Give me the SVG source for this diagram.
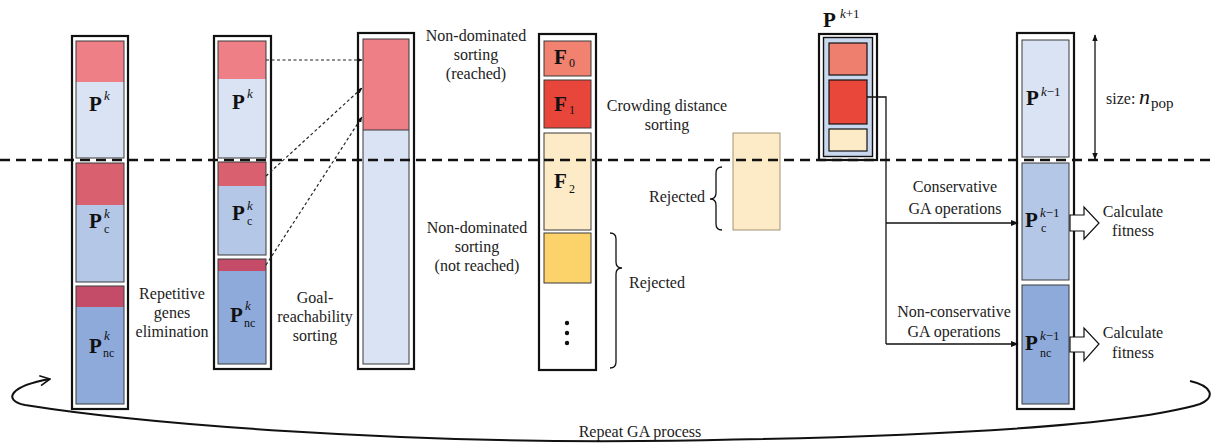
<svg xmlns="http://www.w3.org/2000/svg" width="1214" height="443" viewBox="0 0 1214 443">
<defs>
<style>
.frame{fill:#fff;stroke:#111;stroke-width:2.2}
.cell{fill:none;stroke:#3a3a3a;stroke-width:1}
.lb{fill:#dae3f3}
.mb{fill:#b4c7e7}
.db{fill:#8eaadb}
.r1{fill:#ee7f86}
.r2{fill:#d9606f}
.r3{fill:#c44c68}
.t{font-family:"Liberation Serif","DejaVu Serif",serif;font-size:16px;fill:#222}
.c{text-anchor:middle}
.P{font-family:"Liberation Serif","DejaVu Serif",serif;font-weight:bold;font-size:21px;fill:#111}
.sup{font-family:"Liberation Serif","DejaVu Serif",serif;font-style:italic;font-size:13px;fill:#111}
.sub{font-family:"Liberation Serif","DejaVu Serif",serif;font-size:12px;fill:#111}
.line{fill:none;stroke:#111;stroke-width:1.3}
.dash{fill:none;stroke:#222;stroke-width:1.2;stroke-dasharray:3 2.5}
.blk{fill:#fff;stroke:#111;stroke-width:1.2}
</style>
<marker id="ah" viewBox="0 0 10 10" refX="9" refY="5" markerWidth="8" markerHeight="8" orient="auto" markerUnits="userSpaceOnUse"><path d="M0,1 L10,5 L0,9 z" fill="#111"/></marker>
<marker id="ahs" viewBox="0 0 10 10" refX="9" refY="5" markerWidth="6" markerHeight="6" orient="auto" markerUnits="userSpaceOnUse"><path d="M0,1 L10,5 L0,9 z" fill="#111"/></marker>
<marker id="ad" viewBox="0 0 10 10" refX="9" refY="5" markerWidth="7" markerHeight="7" orient="auto-start-reverse" markerUnits="userSpaceOnUse"><path d="M0,1 L10,5 L0,9 z" fill="#111"/></marker>
<marker id="oa" viewBox="0 0 12 12" refX="11" refY="6" markerWidth="12" markerHeight="12" orient="auto" markerUnits="userSpaceOnUse"><path d="M1,1 L11,6 L1,11" fill="none" stroke="#111" stroke-width="1.6"/></marker>
</defs>
<rect width="1214" height="443" fill="#fff"/>

<!-- Column 1 -->
<g id="col1">
<rect class="frame" x="72" y="36" width="56" height="373"/>
<rect class="lb" x="76" y="41" width="48" height="117"/>
<rect class="r1" x="76" y="41" width="48" height="41"/>
<rect class="cell" x="76" y="41" width="48" height="117"/>
<rect class="mb" x="76" y="163" width="48" height="119"/>
<rect class="r2" x="76" y="163" width="48" height="42"/>
<rect class="cell" x="76" y="163" width="48" height="119"/>
<rect class="db" x="76" y="286" width="48" height="118"/>
<rect class="r3" x="76" y="286" width="48" height="21"/>
<rect class="cell" x="76" y="286" width="48" height="118"/>
<text class="P" x="89" y="111">P</text><text class="sup" x="104" y="100">k</text>
<text class="P" x="89" y="228">P</text><text class="sup" x="104" y="218">k</text><text class="sub" x="104" y="233">c</text>
<text class="P" x="89" y="353">P</text><text class="sup" x="104" y="340">k</text><text class="sub" x="103" y="357">nc</text>
</g>
<g id="label-repetitive">
<text class="t c" x="172" y="299">Repetitive</text>
<text class="t c" x="172" y="318">genes</text>
<text class="t c" x="172" y="337">elimination</text>
</g>

<!-- Column 2 -->
<g id="col2">
<rect class="frame" x="214" y="36" width="57" height="333"/>
<rect class="lb" x="218" y="41" width="48" height="117"/>
<rect class="r1" x="218" y="41" width="48" height="38"/>
<rect class="cell" x="218" y="41" width="48" height="117"/>
<rect class="mb" x="218" y="162" width="48" height="93"/>
<rect class="r2" x="218" y="162" width="48" height="24"/>
<rect class="cell" x="218" y="162" width="48" height="93"/>
<rect class="db" x="218" y="259" width="48" height="105"/>
<rect class="r3" x="218" y="259" width="48" height="12"/>
<rect class="cell" x="218" y="259" width="48" height="105"/>
<text class="P" x="232" y="109">P</text><text class="sup" x="247" y="98">k</text>
<text class="P" x="232" y="220">P</text><text class="sup" x="247" y="210">k</text><text class="sub" x="247" y="225">c</text>
<text class="P" x="230" y="322">P</text><text class="sup" x="245" y="310">k</text><text class="sub" x="244" y="327">nc</text>
</g>
<g id="label-goal">
<text class="t c" x="315" y="303">Goal-</text>
<text class="t c" x="315" y="322">reachability</text>
<text class="t c" x="315" y="341">sorting</text>
</g>

<!-- Column 3 -->
<g id="col3">
<rect class="frame" x="358" y="33" width="56" height="336"/>
<rect class="lb" x="363" y="39" width="46" height="325"/>
<rect class="r1" x="363" y="39" width="46" height="91"/>
<line x1="363" y1="130" x2="409" y2="130" stroke="#3a3a3a" stroke-width="1"/>
<rect class="cell" x="363" y="39" width="46" height="325"/>
</g>
<g id="label-nd-reached">
<text class="t c" x="476" y="41">Non-dominated</text>
<text class="t c" x="476" y="60">sorting</text>
<text class="t c" x="476" y="79">(reached)</text>
</g>
<g id="label-nd-notreached">
<text class="t c" x="477" y="233">Non-dominated</text>
<text class="t c" x="477" y="252">sorting</text>
<text class="t c" x="477" y="271">(not reached)</text>
</g>

<!-- Fronts column -->
<g id="fronts">
<rect class="frame" x="539" y="34" width="57" height="336"/>
<rect x="544" y="41" width="47" height="35" fill="#f0826f" stroke="#3a3a3a" stroke-width="1"/>
<rect x="544" y="80" width="47" height="48" fill="#e8463a" stroke="#3a3a3a" stroke-width="1"/>
<rect x="544" y="133" width="47" height="97" fill="#fdeac6" stroke="#3a3a3a" stroke-width="1"/>
<rect x="544" y="233" width="47" height="50" fill="#fcd36b" stroke="#3a3a3a" stroke-width="1"/>
<circle cx="567" cy="323" r="2.2" fill="#111"/>
<circle cx="567" cy="333" r="2.2" fill="#111"/>
<circle cx="567" cy="343" r="2.2" fill="#111"/>
<text class="P" x="554" y="64">F</text><text class="sub" x="569" y="67" font-size="16">0</text>
<text class="P" x="554" y="111">F</text><text class="sub" x="569" y="114" font-size="16">1</text>
<text class="P" x="554" y="188" font-size="22">F</text><text class="sub" x="569" y="193" font-size="17">2</text>
</g>
<g id="label-crowding">
<text class="t c" x="667" y="111">Crowding distance</text>
<text class="t c" x="667" y="130">sorting</text>
</g>
<g id="label-rejected1">
<path class="line" d="M610,233 q6,0 6,6 v23 q0,6 6,6 q-6,0 -6,6 v88 q0,6 -6,6"/>
<text class="t" x="629" y="288">Rejected</text>
</g>
<g id="label-rejected2">
<path class="line" d="M722,167 q-6,0 -6,6 v20 q0,6 -6,6 q6,0 6,6 v19 q0,6 6,6"/>
<text class="t" x="705" y="202" text-anchor="end">Rejected</text>
</g>
<g id="rejected-box">
<rect x="733" y="133" width="47" height="97" fill="#fdebc8" stroke="#8a7a5a" stroke-width="0.8"/>
</g>

<!-- P^{k+1} -->
<g id="pk1">
<rect x="819" y="34" width="58" height="126" fill="#fff" stroke="#111" stroke-width="2.2"/>
<rect x="823.5" y="37.5" width="49" height="119" fill="#c8d8ee" stroke="#111" stroke-width="1.4"/>
<rect x="829" y="43" width="38" height="32" fill="#ee7f6e" stroke="#111" stroke-width="1.2"/>
<rect x="829" y="80" width="38" height="44" fill="#e8473a" stroke="#111" stroke-width="1.2"/>
<rect x="829" y="129" width="38" height="22" fill="#fdebc8" stroke="#111" stroke-width="1.2"/>
<text class="P" x="823" y="27" font-size="22">P</text><text class="sup" x="840" y="18" font-size="14">k<tspan font-style="normal">+1</tspan></text>
</g>

<!-- Right column -->
<g id="col-right">
<rect class="frame" x="1017" y="33" width="57" height="376"/>
<rect class="cell" x="1022" y="40" width="47" height="117" style="fill:#dae3f3"/>
<rect class="cell" x="1022" y="163" width="47" height="117" style="fill:#b4c7e7"/>
<rect class="cell" x="1022" y="285" width="47" height="119" style="fill:#8eaadb"/>
<text class="P" x="1026" y="105" font-size="19">P</text><text class="sup" x="1041" y="96" font-size="12">k<tspan font-style="normal">−1</tspan></text>
<text class="P" x="1025" y="227" font-size="19">P</text><text class="sup" x="1040" y="217" font-size="12">k<tspan font-style="normal">−1</tspan></text><text class="sub" x="1041" y="232" font-size="11">c</text>
<text class="P" x="1025" y="350" font-size="19">P</text><text class="sup" x="1040" y="340" font-size="12">k<tspan font-style="normal">−1</tspan></text><text class="sub" x="1040" y="357" font-size="11">nc</text>
</g>
<g id="label-size">
<text class="t" x="1106" y="104">size:</text>
<text x="1139" y="104" font-family="Liberation Serif, DejaVu Serif, serif" font-style="italic" font-size="22" fill="#111">n</text>
<text x="1151" y="108" font-family="Liberation Serif, DejaVu Serif, serif" font-size="15" fill="#111">pop</text>
</g>
<g id="label-cons">
<text class="t c" x="955" y="192">Conservative</text>
<text class="t c" x="955" y="214">GA operations</text>
</g>
<g id="label-noncons">
<text class="t c" x="954" y="317">Non-conservative</text>
<text class="t c" x="954" y="337">GA operations</text>
</g>
<g id="fitness1">
<polygon class="blk" points="1070,215 1084,215 1084,207 1099,223 1084,239 1084,231 1070,231"/>
<text class="t c" x="1133" y="217">Calculate</text>
<text class="t c" x="1133" y="236">fitness</text>
</g>
<g id="fitness2">
<polygon class="blk" points="1070,337 1084,337 1084,328 1099,344 1084,361 1084,352 1070,352"/>
<text class="t c" x="1133" y="338">Calculate</text>
<text class="t c" x="1133" y="358">fitness</text>
</g>
<g id="label-repeat">
<text class="t c" x="640" y="437">Repeat GA process</text>
</g>

<!-- Connectors -->
<g id="connectors">
<path class="dash" d="M266,60 L362,60" marker-end="url(#ahs)"/>
<path class="dash" d="M266,176 L362,88" marker-end="url(#ahs)"/>
<path class="dash" d="M266,265 L362,117" marker-end="url(#ahs)"/>
<path class="line" d="M867,97 H886 V344"/>
<path class="line" d="M886,223 H1018" marker-end="url(#ah)"/>
<path class="line" d="M886,344 H1018" marker-end="url(#ah)"/>
<path class="line" d="M1095,35 V159" marker-start="url(#ad)" marker-end="url(#ad)"/>
<path fill="none" stroke="#111" stroke-width="2" d="M1190,381 C1212,386 1216,397 1200,404 C1120,428 900,438 640,441 C400,443 150,425 25,405 C2,400 10,386 50,379" marker-end="url(#oa)"/>
<line x1="0" y1="160" x2="1214" y2="160" stroke="#111" stroke-width="2.5" stroke-dasharray="10 6"/>
</g>
</svg>
